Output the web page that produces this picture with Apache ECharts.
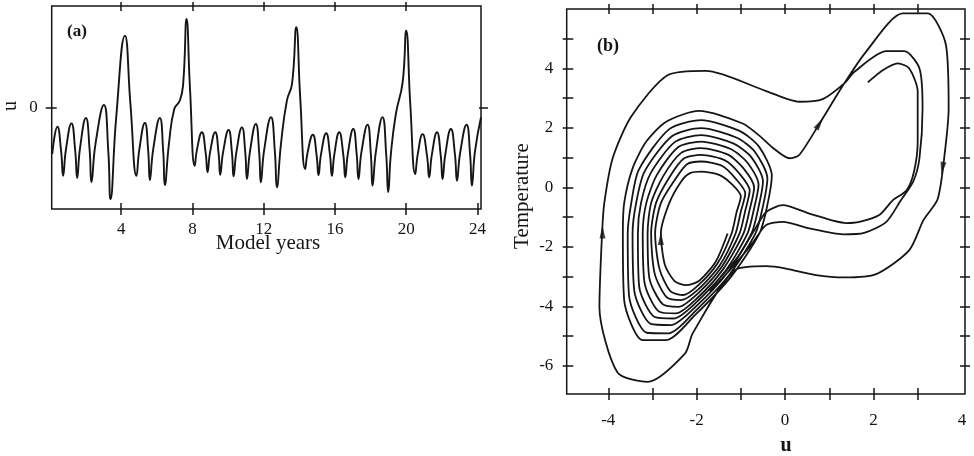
<!DOCTYPE html>
<html><head><meta charset="utf-8">
<script src="https://cdn.jsdelivr.net/npm/echarts@6/dist/echarts.min.js"></script>
<style>html,body{margin:0;padding:0;background:#fff}#c{width:974px;height:456px}</style>
</head><body><div id="c"></div>
<script>
// ---------- Panel (a): time series ----------
const modelYears = [0.13,0.42,0.63,0.74,0.90,1.21,1.42,1.53,1.69,2.02,2.23,2.33,2.56,3.03,3.28,3.40,3.72,4.21,4.52,4.86,5.02,5.33,5.52,5.61,5.80,6.17,6.36,6.45,6.68,6.98,7.29,7.48,7.67,7.86,8.13,8.26,8.53,8.74,8.85,8.99,9.28,9.47,9.56,9.72,10.03,10.22,10.31,10.47,10.78,10.97,11.06,11.23,11.56,11.75,11.84,12.03,12.41,12.63,12.74,12.97,13.30,13.59,13.83,14.05,14.33,14.47,14.76,14.97,15.08,15.22,15.51,15.72,15.83,15.97,16.24,16.47,16.58,16.73,17.03,17.22,17.32,17.49,17.83,18.02,18.11,18.30,18.67,18.88,18.99,19.14,19.42,19.80,20.00,20.23,20.51,20.65,20.92,21.17,21.29,21.44,21.73,21.94,22.04,22.20,22.51,22.74,22.85,23.03,23.39,23.59,23.69,23.86,24.2];
const uValues = [-2.29,-0.95,-2.16,-3.36,-2.07,-0.78,-2.13,-3.47,-2.00,-0.52,-2.10,-3.68,-1.78,0.12,-2.20,-4.51,-0.50,3.54,0.17,-3.36,-2.06,-0.76,-2.17,-3.57,-2.05,-0.52,-2.17,-3.82,-1.80,-0.07,0.33,1.16,4.36,1.00,-2.87,-2.05,-1.22,-2.21,-3.19,-2.21,-1.22,-2.27,-3.31,-2.21,-1.11,-2.25,-3.39,-2.19,-0.98,-2.25,-3.52,-2.17,-0.81,-2.25,-3.68,-2.08,-0.48,-2.20,-3.93,-1.80,0.33,1.16,3.95,0.50,-3.03,-2.19,-1.34,-2.34,-3.33,-2.30,-1.27,-2.32,-3.36,-2.29,-1.22,-2.33,-3.44,-2.25,-1.06,-2.29,-3.52,-2.19,-0.85,-2.35,-3.85,-2.17,-0.48,-2.33,-4.18,-2.30,-0.32,1.24,3.78,0.17,-3.28,-2.30,-1.31,-2.38,-3.44,-2.33,-1.22,-2.37,-3.52,-2.29,-1.06,-2.34,-3.61,-2.23,-0.85,-2.35,-3.85,-2.17,-0.48];
const yearTicks = [4,8,12,16,20,24];
const uTicks = [0];

// ---------- Panel (b): phase portrait (u, Temperature) ----------
const phaseMain = [
[-1.30,-1.55],[-1.57,-2.50],[-1.95,-3.15],[-2.24,-3.29],[-2.50,-3.15],[-2.72,-2.60],[-2.81,-1.55],[-2.62,-0.53],[-2.35,0.20],[-2.15,0.48],[-1.90,0.53],[-1.49,0.42],[-1.20,0.10],[-1.00,-0.30],[-1.10,-0.85],
[-1.21,-1.55],[-1.53,-2.56],[-1.96,-3.29],[-2.30,-3.62],[-2.59,-3.50],[-2.84,-2.75],[-2.94,-1.55],[-2.81,-0.53],[-2.49,0.26],[-2.22,0.78],[-1.90,0.87],[-1.42,0.72],[-1.11,0.28],[-0.90,-0.20],[-1.00,-0.81],
[-1.12,-1.55],[-1.48,-2.63],[-1.97,-3.44],[-2.35,-3.79],[-2.68,-3.69],[-2.95,-2.90],[-3.03,-1.55],[-2.92,-0.53],[-2.63,0.31],[-2.29,0.97],[-1.90,1.09],[-1.36,0.91],[-1.03,0.46],[-0.80,-0.10],[-0.90,-0.78],
[-1.03,-1.55],[-1.44,-2.69],[-1.98,-3.58],[-2.41,-4.02],[-2.77,-3.93],[-3.07,-3.05],[-3.11,-1.55],[-3.03,-0.53],[-2.76,0.37],[-2.35,1.16],[-1.90,1.32],[-1.29,1.10],[-0.94,0.64],[-0.70,0.00],[-0.80,-0.74],
[-0.94,-1.55],[-1.40,-2.75],[-1.99,-3.73],[-2.47,-4.24],[-2.86,-4.17],[-3.18,-3.20],[-3.22,-1.55],[-3.14,-0.53],[-2.90,0.42],[-2.42,1.35],[-1.90,1.54],[-1.23,1.29],[-0.85,0.83],[-0.60,0.10],[-0.70,-0.70],
[-0.85,-1.55],[-1.35,-2.81],[-2.01,-3.87],[-2.52,-4.41],[-2.95,-4.36],[-3.30,-3.34],[-3.33,-1.55],[-3.26,-0.53],[-3.04,0.48],[-2.49,1.53],[-1.90,1.76],[-1.16,1.47],[-0.76,1.01],[-0.50,0.20],[-0.60,-0.66],
[-0.76,-1.55],[-1.31,-2.88],[-2.02,-4.01],[-2.58,-4.63],[-3.04,-4.59],[-3.41,-3.49],[-3.45,-1.55],[-3.37,-0.53],[-3.18,0.53],[-2.56,1.72],[-1.90,1.99],[-1.09,1.67],[-0.68,1.19],[-0.40,0.30],[-0.50,-0.63],
[-0.67,-1.55],[-1.26,-2.94],[-2.03,-4.16],[-2.63,-4.91],[-3.13,-4.89],[-3.53,-3.64],[-3.56,-1.55],[-3.48,-0.53],[-3.31,0.59],[-2.62,1.96],[-1.90,2.26],[-1.03,1.90],[-0.59,1.37],[-0.30,0.40],[-0.40,-0.59],
[-0.58,-1.55],[-1.22,-3.00],[-2.04,-4.30],[-2.69,-5.14],[-3.22,-5.14],[-3.64,-3.79],[-3.67,-1.55],[-3.64,-0.53],[-3.45,0.64],[-3.14,1.54],[-2.69,2.21],[-1.95,2.57],[-0.96,2.15],[-0.55,1.70],[-0.30,1.36],[0.10,0.98],[0.32,1.09],[0.78,2.15],[1.34,3.50],
[1.83,4.56],[2.66,5.85],[3.23,5.85],[3.64,4.78],[3.70,2.66],[3.60,1.00],[3.45,-0.40],[3.13,-1.10],[2.81,-2.11],[2.06,-2.92],[1.34,-3.03],[0.70,-2.95],[0.02,-2.73],[-0.43,-2.65],[-1.13,-2.78],
[-2.09,-4.91],[-2.26,-5.58],[-3.11,-6.54],[-3.79,-6.23],[-4.20,-4.02],[-4.14,-1.55],[-4.09,-0.53],[-3.90,0.98],[-3.48,2.38],[-2.65,3.78],[-1.79,3.92],[-0.43,3.24],[0.32,2.88],[0.85,2.97],[1.34,3.50],
[1.57,3.89],[2.29,4.58],[2.70,4.58],[3.04,4.00],[3.11,2.66],[3.04,0.98],[2.90,0.20],[2.62,-0.43],[2.29,-1.16],[1.79,-1.53],[1.31,-1.58],[0.55,-1.38],[-0.05,-1.16],[-0.43,-1.27],[-0.75,-1.90],[-1.20,-2.70],[-1.70,-3.50]
];
const phaseInner = [
[1.87,3.53],[2.21,3.94],[2.55,4.17],[2.81,4.00],[3.00,3.22],[3.00,1.54],[2.92,0.55],[2.75,-0.10],[2.44,-0.43],[2.13,-0.93],[1.68,-1.16],[1.38,-1.20],[0.55,-0.88],[-0.05,-0.60],[-0.43,-0.83],[-0.70,-1.45],[-1.05,-2.30],[-1.45,-3.00]
];
const arrowPoints = [[-4.13,-1.50],[-2.81,-1.72],[0.78,2.15],[3.56,0.64]];
const arrowAngles = [0,0,-32,171];
const uPhaseTicks = [-4,-3,-2,-1,0,1,2,3];
const uPhaseLabels = [-4,-2,0,2,4];
const tempTicks = [-6,-5,-4,-3,-2,-1,0,1,2,3,4,5];
const tempLabels = [-6,-4,-2,0,2,4];

const FONT = 'Liberation Serif, Times New Roman, serif';
const INK = '#151515';
const tickStyle = {color: INK, width: 1.5};
const lbl = (vals, margin) => ({show: true, customValues: vals, margin: margin, fontFamily: FONT, fontSize: 17, color: INK});
const noLbl = {show: false};
const noLine = {show: false, onZero: false};

const chart = echarts.init(document.getElementById('c'), null, {renderer: 'canvas'});
chart.setOption({
  animation: false,
  backgroundColor: '#fff',
  grid: [
    {left: 51.7, top: 6, width: 429.3, height: 203, show: true, borderColor: INK, borderWidth: 1.5},
    {left: 566.7, top: 9, width: 398.3, height: 385, show: true, borderColor: INK, borderWidth: 1.5}
  ],
  xAxis: [
    {gridIndex: 0, type: 'value', min: 0.1, max: 24.2, position: 'bottom', offset: -6,
     axisLine: noLine, splitLine: {show: false},
     axisTick: {show: true, inside: false, length: 12, customValues: yearTicks, lineStyle: tickStyle},
     axisLabel: lbl(yearTicks, 18)},
    {gridIndex: 0, type: 'value', min: 0.1, max: 24.2, position: 'top', offset: -5,
     axisLine: noLine, splitLine: {show: false},
     axisTick: {show: true, inside: false, length: 9, customValues: [4,8,12,16,20], lineStyle: tickStyle},
     axisLabel: noLbl},
    {gridIndex: 1, type: 'value', min: -4.94, max: 4.07, position: 'bottom', offset: -6,
     axisLine: noLine, splitLine: {show: false},
     axisTick: {show: true, inside: false, length: 12, customValues: uPhaseTicks, lineStyle: tickStyle},
     axisLabel: lbl(uPhaseLabels, 24)},
    {gridIndex: 1, type: 'value', min: -4.94, max: 4.07, position: 'top', offset: -5,
     axisLine: noLine, splitLine: {show: false},
     axisTick: {show: true, inside: false, length: 10, customValues: uPhaseTicks, lineStyle: tickStyle},
     axisLabel: noLbl}
  ],
  yAxis: [
    {gridIndex: 0, type: 'value', min: -5, max: 5, position: 'left', offset: -5,
     axisLine: noLine, splitLine: {show: false},
     axisTick: {show: true, inside: false, length: 11, customValues: uTicks, lineStyle: tickStyle},
     axisLabel: lbl(uTicks, 19)},
    {gridIndex: 0, type: 'value', min: -5, max: 5, position: 'right', offset: -2,
     axisLine: noLine, splitLine: {show: false},
     axisTick: {show: true, inside: false, length: 9, customValues: uTicks, lineStyle: tickStyle},
     axisLabel: noLbl},
    {gridIndex: 1, type: 'value', min: -6.95, max: 6, position: 'left', offset: -6.6,
     axisLine: noLine, splitLine: {show: false},
     axisTick: {show: true, inside: false, length: 10.6, customValues: tempTicks, lineStyle: tickStyle},
     axisLabel: lbl(tempLabels, 20)},
    {gridIndex: 1, type: 'value', min: -6.95, max: 6, position: 'right', offset: -5,
     axisLine: noLine, splitLine: {show: false},
     axisTick: {show: true, inside: false, length: 10, customValues: tempTicks, lineStyle: tickStyle},
     axisLabel: noLbl}
  ],
  series: [
    {type: 'line', xAxisIndex: 0, yAxisIndex: 0, data: modelYears.map((t, i) => [t, uValues[i]]),
     showSymbol: false, symbol: 'none', smooth: 0.5, clip: true,
     lineStyle: {color: INK, width: 1.9}},
    {type: 'line', xAxisIndex: 2, yAxisIndex: 2, data: phaseMain,
     showSymbol: false, symbol: 'none', smooth: 0.25, clip: true,
     lineStyle: {color: INK, width: 1.8}},
    {type: 'line', xAxisIndex: 2, yAxisIndex: 2, data: phaseInner,
     showSymbol: false, symbol: 'none', smooth: 0.25, clip: true,
     lineStyle: {color: INK, width: 1.8}},
    {type: 'scatter', xAxisIndex: 2, yAxisIndex: 2, symbol: 'triangle', symbolSize: [6, 13],
     itemStyle: {color: INK}, z: 5,
     data: arrowPoints.map((p, i) => ({value: p, symbolRotate: arrowAngles[i]}))}
  ],
  graphic: [
    {type: 'text', x: 77, y: 32, style: {text: '(a)', font: 'bold 17px ' + FONT, fill: INK, align: 'center', verticalAlign: 'middle', textAlign: 'center', textVerticalAlign: 'middle'}},
    {type: 'text', x: 608, y: 46, style: {text: '(b)', font: 'bold 18px ' + FONT, fill: INK, align: 'center', verticalAlign: 'middle', textAlign: 'center', textVerticalAlign: 'middle'}},
    {type: 'text', x: 11, y: 106, rotation: Math.PI / 2, style: {text: 'u', font: '20px ' + FONT, fill: INK, align: 'center', verticalAlign: 'middle', textAlign: 'center', textVerticalAlign: 'middle'}},
    {type: 'text', x: 268, y: 243, style: {text: 'Model years', font: '21px ' + FONT, fill: INK, align: 'center', verticalAlign: 'middle', textAlign: 'center', textVerticalAlign: 'middle'}},
    {type: 'text', x: 522, y: 196, rotation: Math.PI / 2, style: {text: 'Temperature', font: '21px ' + FONT, fill: INK, align: 'center', verticalAlign: 'middle', textAlign: 'center', textVerticalAlign: 'middle'}},
    {type: 'text', x: 786, y: 446, style: {text: 'u', font: 'bold 20px ' + FONT, fill: INK, align: 'center', verticalAlign: 'middle', textAlign: 'center', textVerticalAlign: 'middle'}}
  ]
});
</script></body></html>
